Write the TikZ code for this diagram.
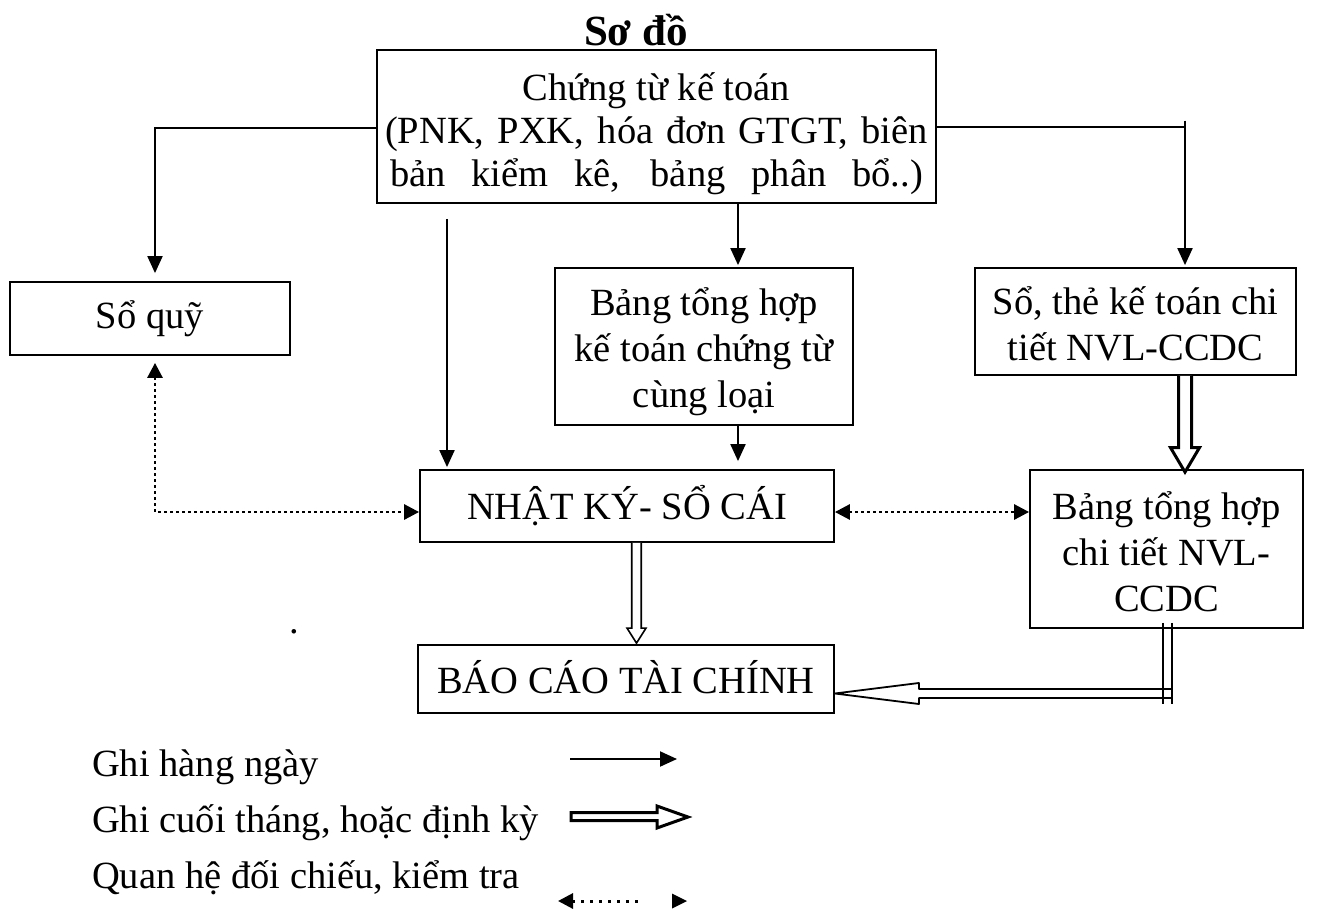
\documentclass[tikz,border=0pt]{standalone}
\usepackage{fontspec}
\setmainfont{Liberation Serif}
\usetikzlibrary{arrows.meta,calc}
\begin{document}
\begin{tikzpicture}[x=1pt,y=-1pt,
  font=\fontsize{38.5}{46}\selectfont,
  box/.style={draw, line width=1.8pt, inner sep=0pt},
  boxtext/.style={inner sep=0pt, align=center},
  flow/.style={line width=2pt, -{Triangle[length=17pt,width=15pt]}},
  fat/.style={line width=3pt, fill=white, miter limit=10},
  thinfat/.style={line width=1.6pt, fill=white, miter limit=10},
  dots/.style={line width=2.8pt, dash pattern=on 2.8pt off 3.2pt},
  dtip/.tip={Triangle[length=15pt,width=15pt]},
  legtext/.style={anchor=base west, inner sep=0pt}]
\useasboundingbox (0,0) rectangle (1326,910);

% title
\node[font=\fontsize{43}{50}\selectfont\bfseries] (title) at (636,30) {Sơ đồ};

% boxes
\node[box, minimum width=559pt, minimum height=153pt] (ct) at (656.5,126.5) {};
\node[boxtext, font=\fontsize{38.5}{43}\selectfont] (ct-t) at ($(ct)+(0,7)$)
  {Chứng từ kế toán\\
   \makebox[543pt][s]{(PNK, PXK, hóa đơn GTGT, biên}\\
   \makebox[533pt][s]{bản kiểm kê, bảng phân bổ..)}};

\node[box, minimum width=280pt, minimum height=73pt] (sq) at (150,318.5) {};
\node[boxtext] (sq-t) at (sq) {Sổ quỹ};

\node[box, minimum width=298pt, minimum height=157pt] (bth) at (704,346.5) {};
\node[boxtext] (bth-t) at ($(bth)+(0,5)$) {Bảng tổng hợp\\kế toán chứng từ\\cùng loại};

\node[box, minimum width=321pt, minimum height=107pt] (st) at (1135.5,321.5) {};
\node[boxtext] (st-t) at ($(st)+(0,2.5)$) {Sổ, thẻ kế toán chi\\tiết NVL-CCDC};

\node[box, minimum width=414pt, minimum height=72pt] (nk) at (627,506) {};
\node[boxtext] (nk-t) at (nk) {NHẬT KÝ- SỔ CÁI};

\node[box, minimum width=273pt, minimum height=158pt] (btc) at (1166.5,549) {};
\node[boxtext] (btc-t) at ($(btc)+(0,3)$) {Bảng tổng hợp\\chi tiết NVL-\\CCDC};

\node[box, minimum width=416pt, minimum height=68pt] (bc) at (626,679) {};
\node[boxtext] (bc-t) at ($(bc)+(0,-1.5)$) {BÁO CÁO TÀI CHÍNH};

\node[anchor=base, inner sep=0pt] (dot) at (294,633) {.};

% daily postings
\coordinate (lq) at ($(sq.north)+(5,0)$);
\draw[flow, shorten >=8pt] ($(ct.west)+(0,1.5)$) -| (lq);

\coordinate (rq) at ($(st.north)+(49.5,0)$);
\draw[line width=2pt] (ct.east) -- (ct.east -| rq);
\draw[flow, shorten >=2pt] ($(ct.east -| rq)+(0,-6)$) -- (rq);

\coordinate (nkl) at ($(nk.north)+(-180,0)$);
\draw[flow, shorten >=2pt] ($(nkl |- ct.south)+(0,15)$) -- (nkl);

\coordinate (bthin) at ($(bth.north)+(34,0)$);
\draw[flow, shorten >=2pt] (bthin |- ct.south) -- (bthin);

\coordinate (bthout) at ($(bth.south)+(34,0)$);
\draw[flow, shorten >=8pt] (bthout) -- (bthout |- nk.north);

% periodic postings
\coordinate (fa) at ($(st.south)+(49.5,0)$);
\coordinate (fb) at (fa |- btc.north);
\draw[fat] ($(fa)+(-6.5,0)$) -- ($(fb)+(-6.5,-21.5)$) -- ($(fb)+(-14.5,-21.5)$)
  -- ($(fb)+(0,3)$) -- ($(fb)+(14.5,-21.5)$) -- ($(fb)+(6.5,-21.5)$) -- ($(fa)+(6.5,0)$);

\coordinate (ga) at ($(nk.south)+(9.5,0)$);
\coordinate (gb) at (ga |- bc.north);
\draw[thinfat] ($(ga)+(-4.75,0)$) -- ($(gb)+(-4.75,-16)$) -- ($(gb)+(-9.5,-16)$)
  -- ($(gb)+(0,-1)$) -- ($(gb)+(9.5,-16)$) -- ($(gb)+(4.75,-16)$) -- ($(ga)+(4.75,0)$);

\coordinate (da) at (btc.south);
\coordinate (db) at ($(bc.east)+(0,14.5)$);
\draw[line width=1.8pt] ($(da)+(-3.5,-6)$) -- ($(da)+(-3.5,75)$);
\draw[line width=1.8pt] ($(da)+(5.5,-6)$) -- ($(da)+(5.5,75)$);
\draw[line width=1.8pt, line join=round]
  ($(db -| da)+(5.5,-4.5)$) -- ($(db)+(84,-4.5)$) -- ($(db)+(84,-10.5)$)
  -- (db) -- ($(db)+(84,10.5)$) -- ($(db)+(84,4.5)$) -- ($(db -| da)+(5.5,4.5)$);

% cross checks
\coordinate (q1) at ($(sq.south)+(5,0)$);
\coordinate (nkw) at ($(nk.west)+(0,6)$);
\draw[dots, {dtip}-{dtip}, shorten <=7pt] (q1) -- (q1 |- nkw) -- (nkw);
\draw[dots, {dtip}-{dtip}] ($(nk.east)+(0,6)$) -- ($(btc.west |- nk.east)+(0,6)$);

% legend
\node[legtext] (l1) at (92,776) {Ghi hàng ngày};
\node[legtext] (l2) at (92,832) {Ghi cuối tháng, hoặc định kỳ};
\node[legtext] (l3) at (92,888) {Quan hệ đối chiếu, kiểm tra};

\draw[flow] (570,759) -- (677,759);
\draw[line width=3pt, miter limit=10] (571,812.5) -- (657,812.5) -- (657,806) -- (688,817)
  -- (657,828) -- (657,820.5) -- (571,820.5) -- cycle;
\draw[line width=3pt, dash pattern=on 3pt off 6pt, {dtip}-] (558,901) -- (641,901);
\fill (672,893.5) -- (687,901) -- (672,908.5) -- cycle;
\end{tikzpicture}
\end{document}
